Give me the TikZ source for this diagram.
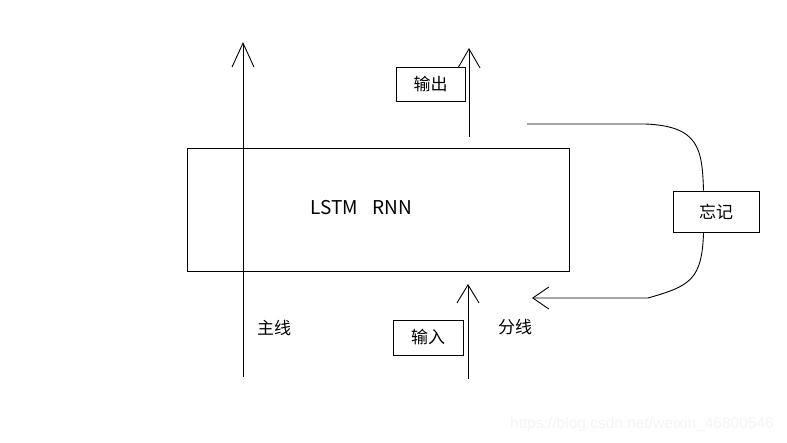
\documentclass[tikz,border=0pt]{standalone}
\usepackage{fontspec}
\newfontfamily\cjk{Noto Sans CJK SC}
\usetikzlibrary{arrows.meta}
\tikzset{
  barbarr/.style  = {-{Straight Barb[length=#1pt,width=22pt]},line width=0.9pt},
  flowline/.style = {line width=0.9pt},
  tagbox/.style   = {draw,line width=0.9pt,fill=white,inner sep=0pt,
                     font=\cjk\fontsize{17}{19}\selectfont},
  tagtext/.style  = {inner sep=0pt,font=\cjk\fontsize{17}{19}\selectfont}
}

\begin{document}
\begin{tikzpicture}[x=1pt,y=-1pt]
  \useasboundingbox[fill=white] (0,0) rectangle (787,443);
  \node[draw,line width=0.9pt,minimum width=382pt,minimum height=123pt] (lstm) at (378,209.5) {};
  \node[tagtext,font=\cjk\fontsize{19}{21}\selectfont] (lstmname) at (361.5,208) {LSTM\hspace{0.75em}RNN};
  \coordinate (mainfoot) at (243,377);
  \coordinate (maintop)  at (243,42);
  \draw[barbarr=24] (mainfoot) -- (maintop);
  \node[tagtext] (mainlabel) at (274,328) {主线};
  \coordinate (outfoot) at (469,137);
  \coordinate (outtop)  at (469,48);
  \draw[barbarr=19] (outfoot) -- (outtop);
  \node[tagbox,minimum width=69pt,minimum height=34pt] (output) at (430.5,84) {输出};
  \coordinate (infoot) at (468,379);
  \coordinate (intop)  at (468,284);
  \draw[barbarr=18] (infoot) -- (intop);
  \node[tagbox,minimum width=70pt,minimum height=35pt] (input) at (428,337.5) {输入};
  \node[tagtext] (branchlabel) at (515,327) {分线};
  \node[tagbox,minimum width=86pt,minimum height=41pt] (forget) at (716,211.5) {忘记};
  \coordinate (fgstart) at (527,124);
  \coordinate (fgend)   at (532,298);
  \draw[flowline] (fgstart) -- (645,124)
    .. controls (700,126) and (702,150) .. ([xshift=31pt]forget.north west);
  \draw[barbarr=16] ([xshift=31pt]forget.south west)
    .. controls (702,280) and (690,286) .. (648,298) -- (fgend);
  \node[inner sep=0pt,text=gray!8,font=\fontspec{Liberation Sans}\fontsize{15.5}{17}\selectfont]
    (mark) at (642,424) {https://blog.csdn.net/weixin\_46800546};
\end{tikzpicture}
\end{document}
